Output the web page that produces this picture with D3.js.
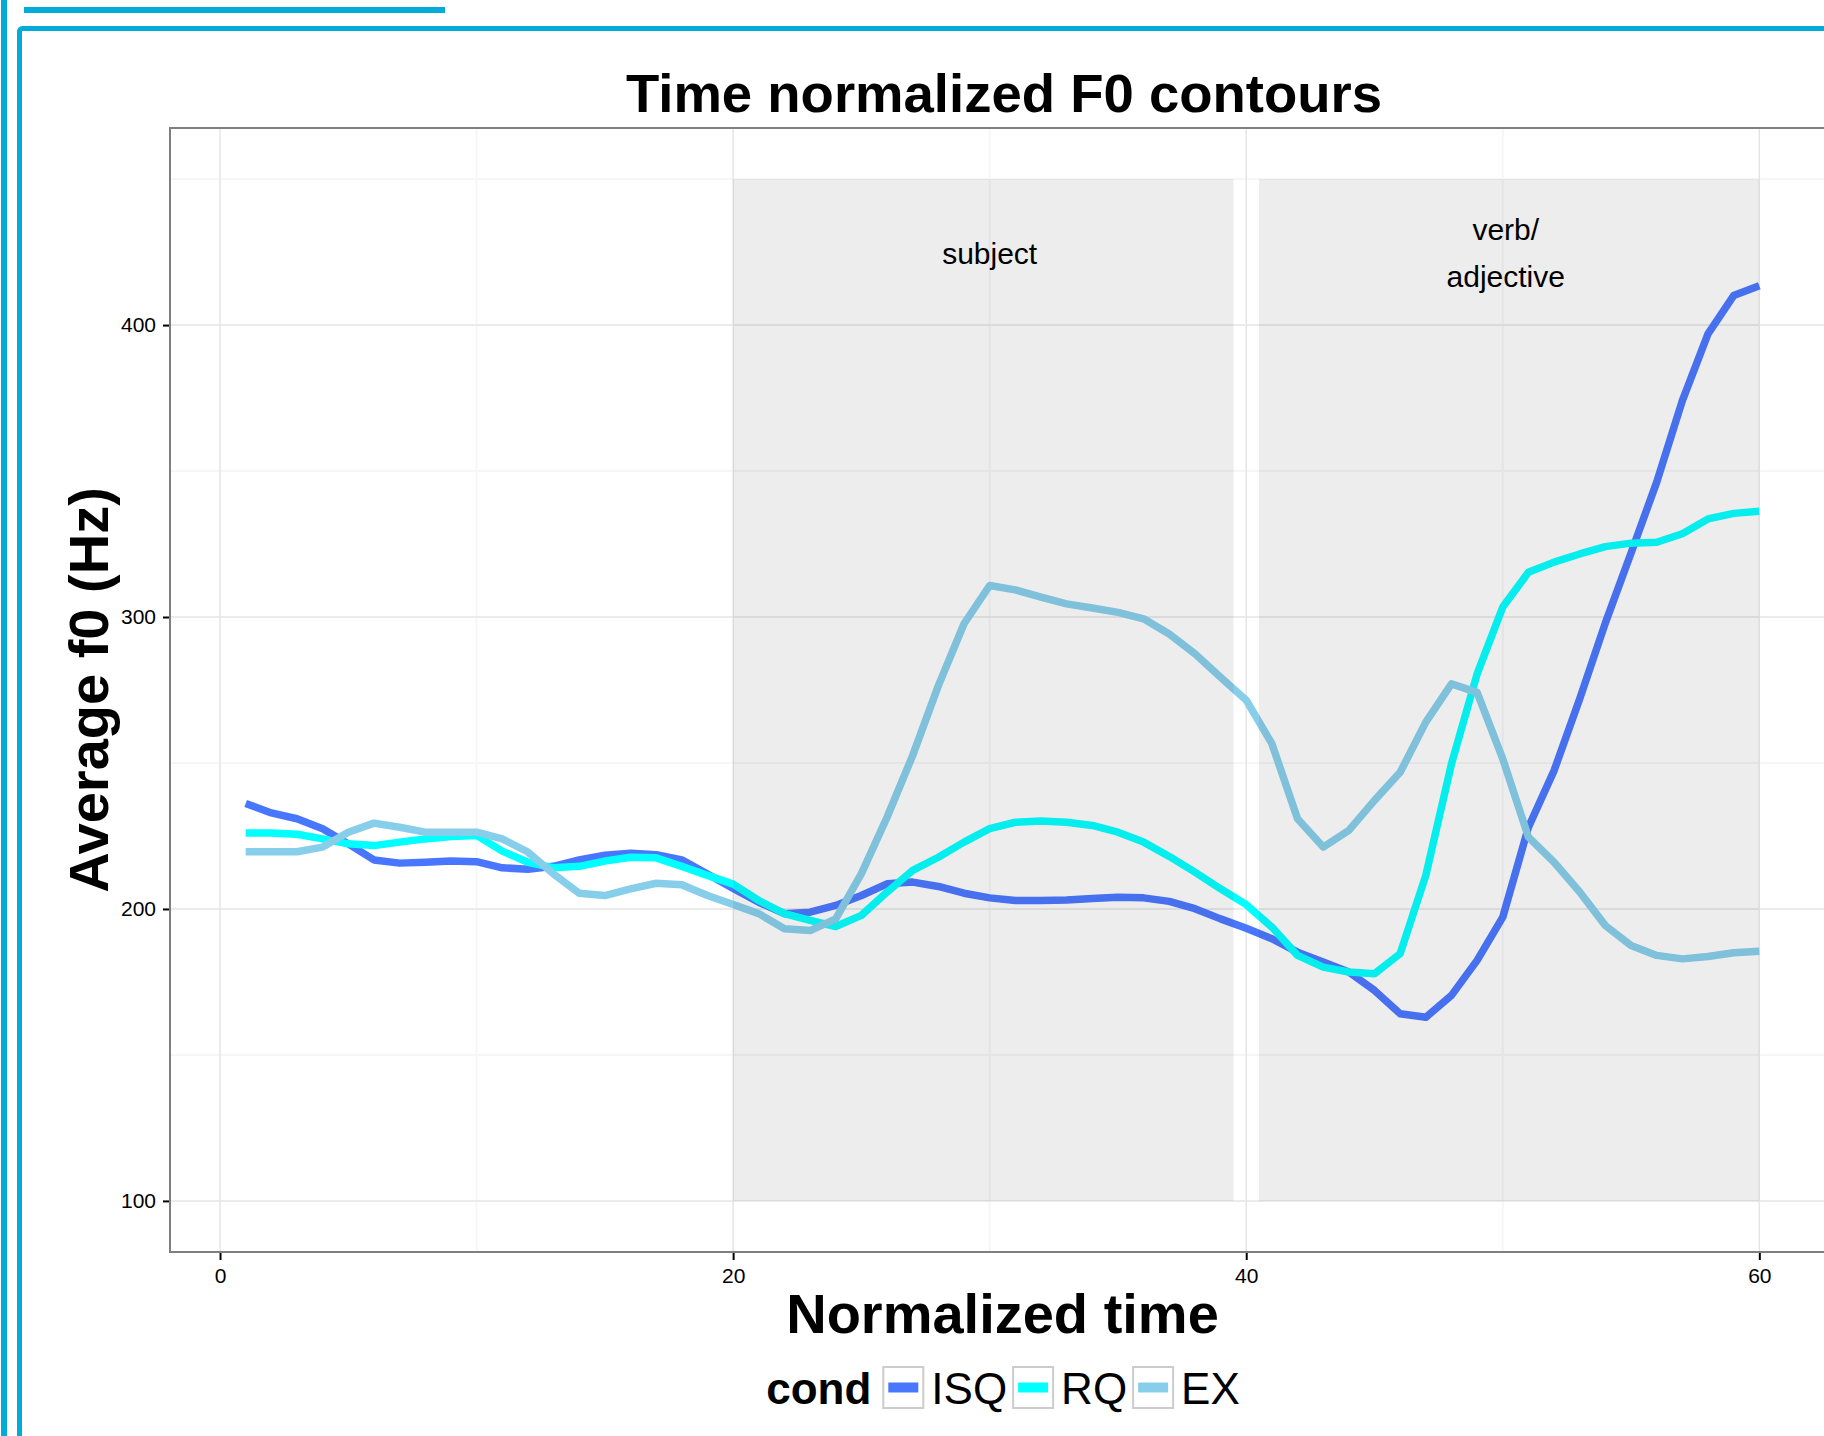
<!DOCTYPE html>
<html>
<head>
<meta charset="utf-8">
<script src="https://cdn.jsdelivr.net/npm/d3@7"></script>
<style>
  body { margin: 0; background: #fff; }
  text { font-family: "Liberation Sans", Arial, Helvetica, sans-serif; }
</style>
</head>
<body>
<div id="chart"></div>
<script>

// data
var time = d3.range(1, 61);
var conds = ["ISQ", "RQ", "EX"];
var condColors = ["#4876FF", "#00FFFF", "#87CEEB"];

var isq = [236.1, 232.9, 230.9, 227.5, 222.3, 216.8, 215.7, 216.0, 216.4, 216.2,
           214.1, 213.6, 214.6, 216.8, 218.4, 219.1, 218.6, 216.8, 212.0, 207.0,
           202.3, 198.4, 198.9, 201.2, 204.6, 208.6, 209.2, 207.7, 205.4, 203.8,
           202.9, 202.9, 203.1, 203.6, 204.0, 203.8, 202.6, 200.1, 196.6, 193.4,
           189.8, 185.2, 181.8, 178.4, 172.1, 164.1, 162.9, 170.4, 182.4, 197.2,
           228.0, 247.4, 272.0, 298.0, 321.9, 346.2, 374.1, 397.0, 410.1, 413.5];
var rq  = [226.0, 226.0, 225.6, 224.0, 222.3, 221.7, 222.9, 224.0, 224.8, 225.2,
           219.8, 216.0, 214.1, 214.6, 216.4, 217.7, 217.5, 214.6, 211.5, 208.5,
           202.9, 198.4, 196.1, 194.0, 197.8, 205.8, 213.2, 217.7, 222.9, 227.5,
           229.7, 230.1, 229.7, 228.6, 226.3, 222.9, 218.0, 212.6, 206.9, 201.5,
           193.8, 184.1, 180.1, 178.4, 177.8, 184.7, 211.5, 249.7, 280.5, 303.4,
           315.3, 318.8, 321.6, 324.1, 325.3, 325.6, 328.5, 333.6, 335.5, 336.2];
var ex  = [219.6, 219.6, 219.6, 221.2, 226.3, 229.4, 228.0, 226.3, 226.3, 226.3,
           224.0, 219.5, 212.0, 205.4, 204.6, 206.9, 208.8, 208.3, 204.6, 201.5,
           198.4, 193.2, 192.6, 196.6, 212.1, 231.4, 252.6, 276.5, 297.7, 310.8,
           309.3, 306.8, 304.5, 303.1, 301.6, 299.4, 294.2, 287.4, 279.4, 271.5,
           256.6, 230.9, 221.2, 226.9, 237.2, 246.8, 264.0, 277.1, 274.2, 251.4,
           224.6, 216.0, 205.8, 194.3, 187.5, 184.1, 182.9, 183.7, 185.0, 185.5];

// shaded regions (x from, x to) and their labels
var regionStart = [20, 40.5];
var regionEnd = [39.5, 60];
var regionLow = 100, regionHigh = 450;
var regionLabels = [["subject"], ["verb/", "adjective"]];
var regionLabelX = [30, 50];
var regionLabelY = 424.6;

var xTicks = [0, 20, 40, 60];
var xMinor = [10, 30, 50];
var yTicks = [100, 200, 300, 400];
var yMinor = [150, 250, 350, 450];

var width = 1824, height = 1436;
var blue = "#03ACD8";

var svg = d3.select("#chart")
  .append("svg")
  .attr("width", width)
  .attr("height", height);

svg.append("rect")
  .attr("width", width)
  .attr("height", height)
  .attr("fill", "#fff");

// page frame lines
svg.append("rect").attr("x", 1).attr("y", 0).attr("width", 6).attr("height", height).attr("fill", blue);
svg.append("rect").attr("x", 24).attr("y", 7).attr("width", 421).attr("height", 6).attr("fill", blue);
svg.append("rect")
  .attr("x", 19.5).attr("y", 28.5)
  .attr("width", 3000).attr("height", 3000)
  .attr("rx", 3)
  .attr("fill", "none")
  .attr("stroke", blue)
  .attr("stroke-width", 5);

// scales (5% expansion like ggplot)
var xPad = (d3.max(time) - d3.min(time)) * 0.05;
var yPad = (regionHigh - regionLow) * 0.05;

var x = d3.scaleLinear()
  .domain([d3.min(time) - xPad, d3.max(time) + xPad])
  .range([170, 1835]);

var y = d3.scaleLinear()
  .domain([regionLow - yPad, regionHigh + yPad])
  .range([1252, 128]);

var x0 = x.range()[0], x1 = x.range()[1];
var y0 = y.range()[1], y1 = y.range()[0];

var plot = svg.append("g");

// grid
plot.selectAll(".xminor").data(xMinor).enter().append("line")
  .attr("x1", function(d) { return x(d); }).attr("x2", function(d) { return x(d); })
  .attr("y1", y0).attr("y2", y1)
  .attr("stroke", "#f6f6f6").attr("stroke-width", 2);
plot.selectAll(".yminor").data(yMinor).enter().append("line")
  .attr("y1", function(d) { return y(d); }).attr("y2", function(d) { return y(d); })
  .attr("x1", x0).attr("x2", x1)
  .attr("stroke", "#f6f6f6").attr("stroke-width", 2);
plot.selectAll(".xmajor").data(xTicks).enter().append("line")
  .attr("x1", function(d) { return x(d); }).attr("x2", function(d) { return x(d); })
  .attr("y1", y0).attr("y2", y1)
  .attr("stroke", "#e5e5e5").attr("stroke-width", 1.5);
plot.selectAll(".ymajor").data(yTicks).enter().append("line")
  .attr("y1", function(d) { return y(d); }).attr("y2", function(d) { return y(d); })
  .attr("x1", x0).attr("x2", x1)
  .attr("stroke", "#e5e5e5").attr("stroke-width", 1.5);

// contours
var series = [isq, rq, ex];
var line = d3.line()
  .x(function(d, i) { return x(time[i]); })
  .y(function(d) { return y(d); });

plot.selectAll(".contour")
  .data(series)
  .enter()
  .append("path")
  .attr("class", "contour")
  .attr("d", line)
  .attr("fill", "none")
  .attr("stroke", function(d, i) { return condColors[i]; })
  .attr("stroke-width", 7.5)
  .attr("stroke-linejoin", "round");

// shaded regions on top, semi transparent
plot.selectAll(".region")
  .data(regionStart)
  .enter()
  .append("rect")
  .attr("x", function(d) { return x(d); })
  .attr("width", function(d, i) { return x(regionEnd[i]) - x(d); })
  .attr("y", y(regionHigh))
  .attr("height", y(regionLow) - y(regionHigh))
  .attr("fill", "#333333")
  .attr("fill-opacity", 0.09);

var lbl = plot.selectAll(".rlabel")
  .data(regionLabels)
  .enter()
  .append("text")
  .attr("text-anchor", "middle")
  .attr("font-size", "30px")
  .attr("fill", "#000");

lbl.selectAll("tspan")
  .data(function(d, i) { return d.map(function(t, j) { return {t: t, i: i, j: j, n: d.length}; }); })
  .enter()
  .append("tspan")
  .attr("x", function(d) { return x(regionLabelX[d.i]) + (d.n > 1 ? 3 : 0); })
  .attr("y", function(d) { return y(regionLabelY) + 10.5 + (d.j - (d.n - 1) / 2) * 46.7; })
  .text(function(d) { return d.t; });

// panel border
plot.append("rect")
  .attr("x", x0).attr("y", y0)
  .attr("width", x1 - x0).attr("height", y1 - y0)
  .attr("fill", "none")
  .attr("stroke", "#7f7f7f")
  .attr("stroke-width", 2);

// axes
var xAxis = d3.axisBottom(x).tickValues(xTicks).tickSize(7).tickPadding(8).tickFormat(d3.format("d"));
var yAxis = d3.axisLeft(y).tickValues(yTicks).tickSize(6).tickPadding(7).tickFormat(d3.format("d"));

var gx = svg.append("g").attr("transform", "translate(0," + (y1 + 1) + ")").call(xAxis);
var gy = svg.append("g").attr("transform", "translate(" + (x0 - 1) + ",0)").call(yAxis);

[gx, gy].forEach(function(g) {
  g.select(".domain").remove();
  g.selectAll(".tick line").attr("stroke", "#000").attr("stroke-width", 2);
  g.selectAll(".tick text")
    .attr("fill", "#000")
    .attr("font-size", "21px")
    .attr("font-family", "Liberation Sans, Arial, sans-serif");
});

// titles
svg.append("text")
  .attr("x", 1004).attr("y", 111.7)
  .attr("text-anchor", "middle")
  .attr("font-size", "54.5px")
  .attr("font-weight", "bold")
  .text("Time normalized F0 contours");

svg.append("text")
  .attr("x", (x0 + x1) / 2).attr("y", 1332.7)
  .attr("text-anchor", "middle")
  .attr("font-size", "56px")
  .attr("font-weight", "bold")
  .text("Normalized time");

svg.append("text")
  .attr("transform", "translate(108," + ((y0 + y1) / 2) + ") rotate(-90)")
  .attr("text-anchor", "middle")
  .attr("font-size", "56px")
  .attr("font-weight", "bold")
  .text("Average f0 (Hz)");

// legend
var legend = svg.append("g");
var lx = 0;
var ltitle = legend.append("text")
  .attr("x", lx).attr("y", 1404)
  .attr("font-size", "44px")
  .attr("font-weight", "bold")
  .text("cond");
lx += ltitle.node().getComputedTextLength() + 12;

conds.forEach(function(c, i) {
  legend.append("rect")
    .attr("x", lx).attr("y", 1367)
    .attr("width", 40).attr("height", 41)
    .attr("fill", "#fff")
    .attr("stroke", "#cccccc")
    .attr("stroke-width", 2);
  legend.append("line")
    .attr("x1", lx + 5).attr("x2", lx + 35)
    .attr("y1", 1387.5).attr("y2", 1387.5)
    .attr("stroke", condColors[i])
    .attr("stroke-width", 10);
  lx += 48;
  var t = legend.append("text")
    .attr("x", lx).attr("y", 1404)
    .attr("font-size", "44px")
    .text(c);
  lx += t.node().getComputedTextLength() + 6;
});

legend.attr("transform", "translate(" + (1003 - (lx - 6) / 2) + ",0)");

</script>
</body>
</html>
